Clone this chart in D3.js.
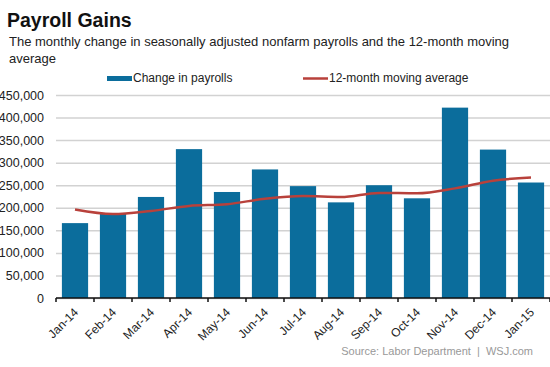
<!DOCTYPE html>
<html><head><meta charset="utf-8">
<script src="https://cdn.jsdelivr.net/npm/d3@7"></script>
<style>body{margin:0;background:#fff;}svg{display:block;font-family:"Liberation Sans",Arial,sans-serif;}</style>
</head><body>
<script>
const months = ["Jan-14","Feb-14","Mar-14","Apr-14","May-14","Jun-14","Jul-14","Aug-14","Sep-14","Oct-14","Nov-14","Dec-14","Jan-15"];
const payrolls = [166000,188000,224000,330000,235000,285000,248000,212000,250000,221000,422000,329000,256000];
const movingAvg = [196000,186000,193000,204000,208000,220000,226000,224000,233000,232000,243000,260000,267000];
const yTicks = [0,50000,100000,150000,200000,250000,300000,350000,400000,450000];

(function(){
const W=550,H=367;
const svg=d3.select("body").append("svg").attr("width",W).attr("height",H);
const mLeft=56,mRight=550,mTop=95,mBottom=298;
const x=d3.scaleBand().domain(months).range([mLeft,mRight]).paddingInner(0.31).paddingOuter(0.155);
const y=d3.scaleLinear().domain([0,450000]).range([mBottom,mTop]);

svg.append("text").attr("x",7).attr("y",27).attr("font-size",19.5).attr("font-weight","bold").attr("fill","#111").text("Payroll Gains");
svg.append("text").attr("x",9).attr("y",46).attr("font-size",13).attr("fill","#222").text("The monthly change in seasonally adjusted nonfarm payrolls and the 12-month moving");
svg.append("text").attr("x",9).attr("y",63).attr("font-size",13).attr("fill","#222").text("average");

// legend
svg.append("rect").attr("x",107).attr("y",76).attr("width",25).attr("height",5).attr("fill","#0b6d9c");
svg.append("text").attr("x",133).attr("y",82).attr("font-size",12).attr("fill","#222").text("Change in payrolls");
svg.append("line").attr("x1",303).attr("x2",328).attr("y1",78.5).attr("y2",78.5).attr("stroke","#b8413b").attr("stroke-width",2.5);
svg.append("text").attr("x",329).attr("y",82).attr("font-size",12).attr("fill","#222").text("12-month moving average");

// grid
const yAxis=d3.axisLeft(y).tickValues(yTicks).tickSize(-(mRight-mLeft)).tickFormat(d3.format(","));
const gy=svg.append("g").attr("transform",`translate(${mLeft},0)`).call(yAxis);
gy.select(".domain").remove();
gy.selectAll(".tick line").attr("stroke","#d2d2d2").attr("stroke-width",1.5);
gy.selectAll(".tick text").attr("x",-12).attr("font-size",12.5).attr("fill","#222").attr("font-family","Liberation Sans, Arial, sans-serif");

// bars
svg.append("g").selectAll("rect").data(months).join("rect")
  .attr("x",d=>x(d)).attr("width",x.bandwidth())
  .attr("y",(d,i)=>y(payrolls[i])).attr("height",(d,i)=>y(0)-y(payrolls[i]))
  .attr("fill","#0b6d9c");

// line
const line=d3.line().x((d,i)=>x(months[i])+x.bandwidth()/2).y(d=>y(d)).curve(d3.curveMonotoneX);
svg.append("path").datum(movingAvg).attr("d",line).attr("fill","none").attr("stroke","#b8413b").attr("stroke-width",2.5);

// x axis
const step=x.step();
const gx=svg.append("g").attr("transform",`translate(0,${mBottom})`);
gx.append("line").attr("x1",mLeft).attr("x2",mRight).attr("stroke","#111").attr("stroke-width",1.5);
const edges=d3.range(months.length+1).map(i=>mLeft+i*step);
gx.selectAll("line.tk").data(edges).join("line").attr("class","tk")
  .attr("x1",d=>d).attr("x2",d=>d).attr("y1",0).attr("y2",4).attr("stroke","#111").attr("stroke-width",1.5);
gx.selectAll("text").data(months).join("text")
  .attr("transform",d=>`translate(${x(d)+x.bandwidth()/2+4},${15}) rotate(-45)`)
  .attr("text-anchor","end").attr("font-size",12).attr("fill","#222").text(d=>d);

svg.append("text").attr("x",533).attr("y",355).attr("text-anchor","end").attr("font-size",11).attr("fill","#999").style("white-space","pre").text("Source: Labor Department  |  WSJ.com");
})();
</script>
</body></html>
